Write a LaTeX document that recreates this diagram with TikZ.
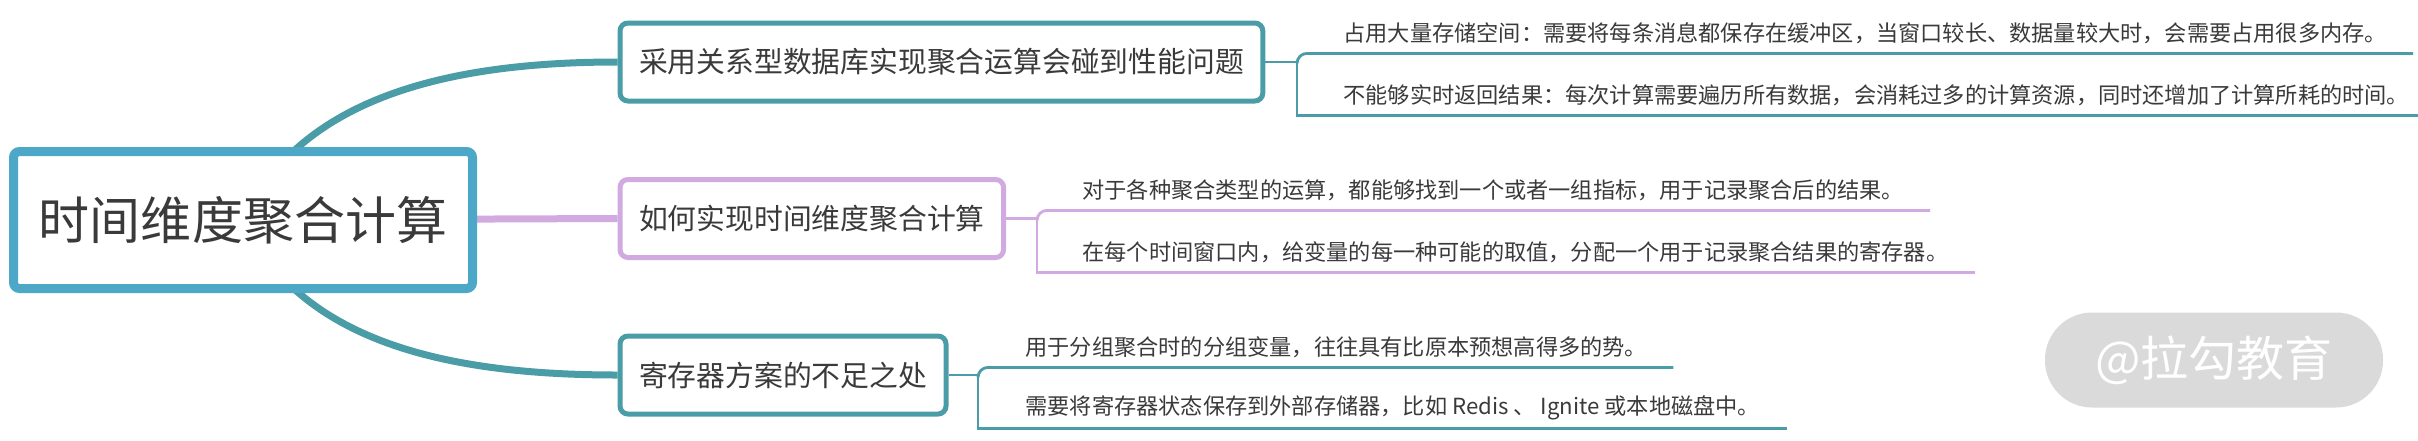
\documentclass[tikz,border=0pt]{standalone}
\usepackage{fontspec}
\setmainfont{Noto Sans CJK SC}
\usetikzlibrary{positioning,backgrounds}
\definecolor{rootblue}{HTML}{4DA8C8}
\definecolor{branchteal}{HTML}{4A9CA6}
\definecolor{lilac}{HTML}{D2AAE2}
\definecolor{inkgray}{HTML}{3A3A3A}
\definecolor{markgray}{HTML}{DADADA}

\begin{document}
\begin{tikzpicture}[x=0.5pt,y=-0.5pt,
  root/.style={draw=rootblue,line width=4.5pt,rounded corners=3pt,fill=white,text=inkgray,minimum width=229.5pt,minimum height=68.5pt,font=\fontsize{25.5}{30}\selectfont},
  topic/.style={draw,line width=2.5pt,rounded corners=4pt,fill=white,text=inkgray,inner xsep=9.5pt,minimum height=39pt,anchor=west,font=\fontsize{14.4}{17}\selectfont},
  leaf/.style={inner xsep=13pt,inner ysep=0pt,minimum height=20pt,anchor=west,text=inkgray,font=\fontsize{11.1}{13}\selectfont},
  limb/.style={line width=3.5pt},
  twig/.style={line width=1.4pt},
]
  \useasboundingbox (0,0) rectangle (2418,440);

  % centre and main topics
  \node[root] (root) at (243,220) {时间维度聚合计算};
  \node[topic,draw=branchteal] (b1) at (617.5,62) {采用关系型数据库实现聚合运算会碰到性能问题};
  \node[topic,draw=lilac] (b2) at (617.5,218.5) {如何实现时间维度聚合计算};
  \node[topic,draw=branchteal] (b3) at (617.5,375) {寄存器方案的不足之处};

  % details
  \node[leaf] (c11) at (1317,33) {占用大量存储空间：需要将每条消息都保存在缓冲区，当窗口较长、数据量较大时，会需要占用很多内存。};
  \node[leaf] (c12) at (1317,95) {不能够实时返回结果：每次计算需要遍历所有数据，会消耗过多的计算资源，同时还增加了计算所耗的时间。};
  \node[leaf] (c21) at (1056,190) {对于各种聚合类型的运算，都能够找到一个或者一组指标，用于记录聚合后的结果。};
  \node[leaf] (c22) at (1056,252) {在每个时间窗口内，给变量的每一种可能的取值，分配一个用于记录聚合结果的寄存器。};
  \node[leaf] (c31) at (999,347) {用于分组聚合时的分组变量，往往具有比原本预想高得多的势。};
  \node[leaf] (c32) at (999,408) {需要将寄存器状态保存到外部存储器，比如 Redis 、 Ignite 或本地磁盘中。};

  \coordinate (j1) at (1297,62);
  \coordinate (j2) at (1037,218.5);
  \coordinate (j3) at (978,375);

  % watermark
  \node[fill=markgray,text=white,rounded corners=23.5pt,minimum width=169pt,minimum height=47.5pt,font=\fontsize{24}{28}\selectfont] (mark) at (2214,360) {@拉勾教育};

  \begin{scope}[on background layer]
    \draw[limb,branchteal] (root.center) .. controls +(57,-120) and +(-175,0) .. (b1.west);
    \draw[limb,lilac] (root.center) -- (b2.west);
    \draw[limb,branchteal] (root.center) .. controls +(57,120) and +(-175,0) .. (b3.west);
  \end{scope}

  \draw[twig,branchteal] (b1.east) -- (j1);
  \draw[twig,branchteal,rounded corners=5pt] (c11.south east) -- (c11.south -| j1) -- (j1);
  \draw[twig,branchteal] (j1) -- (c12.south -| j1) -- (c12.south east);

  \draw[twig,lilac] (b2.east) -- (j2);
  \draw[twig,lilac,rounded corners=5pt] (c21.south east) -- (c21.south -| j2) -- (j2);
  \draw[twig,lilac] (j2) -- (c22.south -| j2) -- (c22.south east);

  \draw[twig,branchteal] (b3.east) -- (j3);
  \draw[twig,branchteal,rounded corners=5pt] (c31.south east) -- (c31.south -| j3) -- (j3);
  \draw[twig,branchteal] (j3) -- (c32.south -| j3) -- (c32.south east);
\end{tikzpicture}
\end{document}
